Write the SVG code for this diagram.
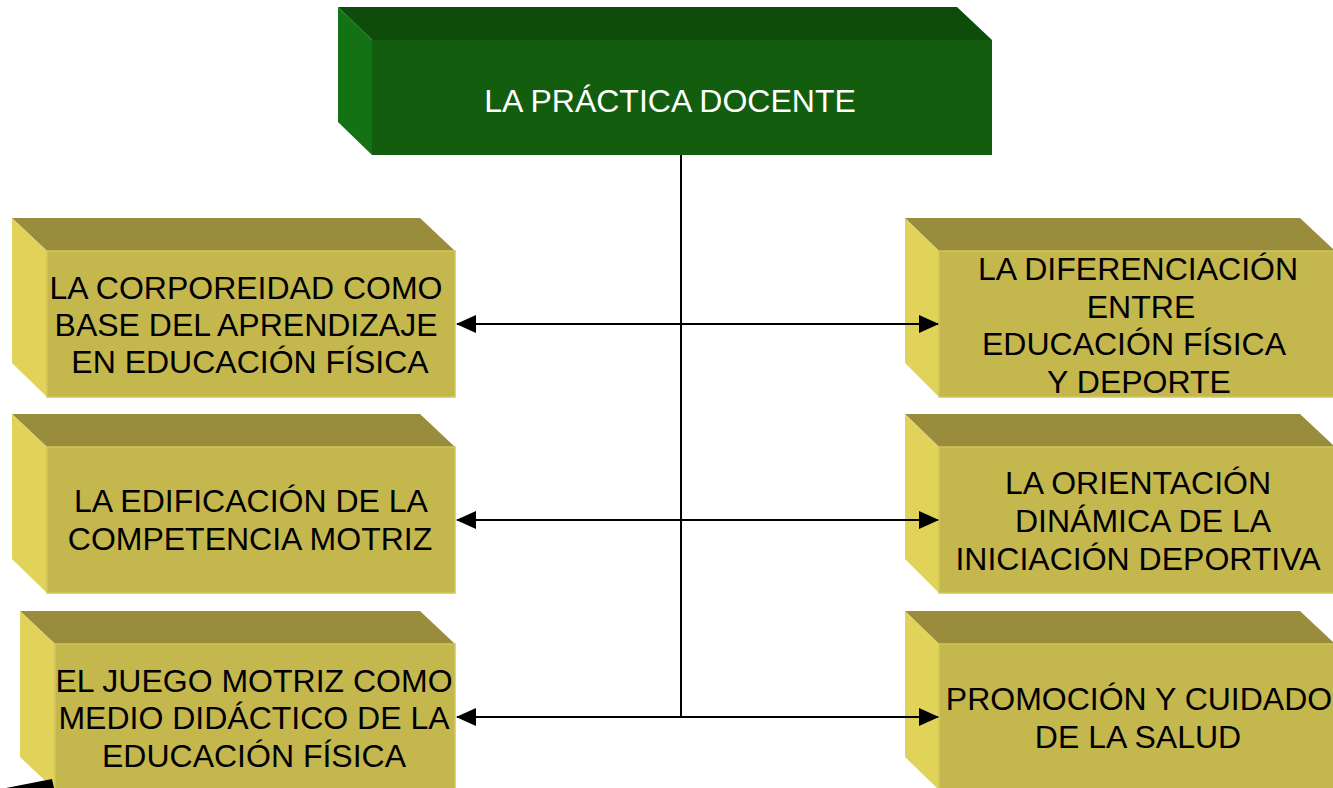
<svg xmlns="http://www.w3.org/2000/svg" width="1333" height="788" viewBox="0 0 1333 788">
<defs>
<style>
.gtop{fill:#0E4C0B}.gleft{fill:#137213}.gfront{fill:#125E0E}
.ytop{fill:#998C3D}.yleft{fill:#E1D35A}.yfront{fill:#C4B74E;stroke:#D2C55A;stroke-width:1.5}
.t{font-family:"Liberation Sans",Arial,sans-serif;font-size:32px;text-anchor:middle;fill:#000}
.tw{fill:#fff}
.conn{stroke:#000;stroke-width:2;fill:none}
</style>
<marker id="ah" markerUnits="userSpaceOnUse" markerWidth="20" markerHeight="20" viewBox="0 0 20 20" refX="19" refY="10" orient="auto-start-reverse">
<path d="M0,1 L20,10 L0,19 Z" fill="#000"/>
</marker>
</defs>
<rect width="1333" height="788" fill="#fff"/>

<g id="n-top">
<polygon class="gtop" points="338,7 957,7 992,40 372,40"/>
<polygon class="gleft" points="338,7 372,40 372,155 338,122"/>
<rect class="gfront" x="372" y="40" width="620" height="115"/>
<text class="t tw" x="670" y="112">LA PRÁCTICA DOCENTE</text>
</g>

<g id="n-l1">
<polygon class="ytop" points="12,218 420,218 455,251 47,251"/>
<polygon class="yleft" points="12,218 47,251 47,397 12,363"/>
<rect class="yfront" x="47" y="251" width="408" height="146"/>
<text class="t" x="246" y="299">LA CORPOREIDAD COMO</text>
<text class="t" x="246" y="336">BASE DEL APRENDIZAJE</text>
<text class="t" x="250" y="373">EN EDUCACIÓN FÍSICA</text>
</g>

<g id="n-l2">
<polygon class="ytop" points="12,414 420,414 455,447 47,447"/>
<polygon class="yleft" points="12,414 47,447 47,593 12,559"/>
<rect class="yfront" x="47" y="447" width="408" height="146"/>
<text class="t" x="251" y="512">LA EDIFICACIÓN DE LA</text>
<text class="t" x="250" y="550">COMPETENCIA MOTRIZ</text>
</g>

<g id="n-l3">
<polygon class="ytop" points="20,611 420,611 455,644 55,644"/>
<polygon class="yleft" points="20,611 55,644 55,790 20,757"/>
<rect class="yfront" x="55" y="644" width="400" height="150"/>
<text class="t" x="254" y="692">EL JUEGO MOTRIZ COMO</text>
<text class="t" x="254" y="729">MEDIO DIDÁCTICO DE LA</text>
<text class="t" x="254" y="767">EDUCACIÓN FÍSICA</text>
</g>

<g id="n-r1">
<polygon class="ytop" points="905,218 1300,218 1335,251 939,251"/>
<polygon class="yleft" points="905,218 939,251 939,397 905,363"/>
<rect class="yfront" x="939" y="251" width="400" height="146"/>
<text class="t" x="1138" y="280">LA DIFERENCIACIÓN</text>
<text class="t" x="1141" y="318">ENTRE</text>
<text class="t" x="1134" y="355">EDUCACIÓN FÍSICA</text>
<text class="t" x="1139" y="393">Y DEPORTE</text>
</g>

<g id="n-r2">
<polygon class="ytop" points="905,414 1300,414 1335,447 939,447"/>
<polygon class="yleft" points="905,414 939,447 939,593 905,559"/>
<rect class="yfront" x="939" y="447" width="400" height="146"/>
<text class="t" x="1138" y="494">LA ORIENTACIÓN</text>
<text class="t" x="1143" y="532">DINÁMICA DE LA</text>
<text class="t" x="1138" y="570">INICIACIÓN DEPORTIVA</text>
</g>

<g id="n-r3">
<polygon class="ytop" points="905,611 1300,611 1335,644 939,644"/>
<polygon class="yleft" points="905,611 939,644 939,790 905,757"/>
<rect class="yfront" x="939" y="644" width="400" height="150"/>
<text class="t" x="1139" y="710">PROMOCIÓN Y CUIDADO</text>
<text class="t" x="1138" y="748">DE LA SALUD</text>
</g>

<g id="connectors">
<line class="conn" x1="681" y1="155" x2="681" y2="717"/>
<line class="conn" x1="457" y1="324" x2="938" y2="324" marker-start="url(#ah)" marker-end="url(#ah)"/>
<line class="conn" x1="457" y1="520" x2="938" y2="520" marker-start="url(#ah)" marker-end="url(#ah)"/>
<line class="conn" x1="457" y1="717" x2="938" y2="717" marker-start="url(#ah)" marker-end="url(#ah)"/>
<polygon points="6,788 52,779 54,788" fill="#000"/>
</g>
</svg>
